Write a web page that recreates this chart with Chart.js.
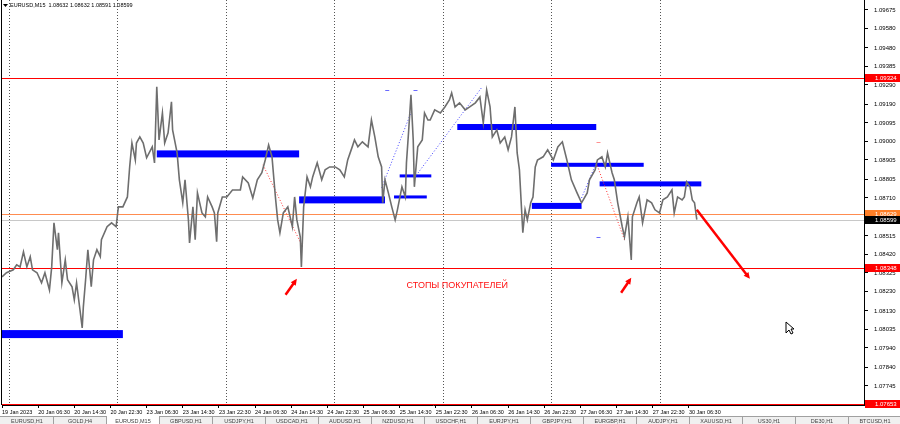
<!DOCTYPE html>
<html>
<head>
<meta charset="utf-8">
<script src="https://cdn.jsdelivr.net/npm/chart.js@4.4.1/dist/chart.umd.min.js"></script>
<style>
  html, body { margin: 0; padding: 0; background: #fff; }
  #wrap { width: 900px; height: 424px; position: relative; }
</style>
</head>
<body>
<div id="wrap"><canvas id="mtChart"></canvas></div>
<script>
// M15 bars counted from 19 Jan 22:30, closes
const barIndex = [0,4,10,13,16,19,22,25,27,31,35,38,42,44,46,49,50,53,56,58,62,64,66,69,71,72,74,76,79,81,84,87,88,93,97,101,103,107,111,113,115,118,119,122,125,128,133,135,137,139,142,144,147,150,151,155,157,160,162,165,166,169,171,173,177,180,182,186,188,190,191,
  195,199,204,211,213,218,222,226,230,233,236,239,242,244,246,249,253,257,259,261,264,265,267,270,273,275,279,283,286,290,295,299,303,306,310,312,315,319,324,327,330,333,336,337,339,342,345,348,350,354,357,358,360,362,364,365,368,372,374,377,
  379,383,388,392,396,398,401,405,410,414,419,423,426,429,432,434,438,441,445,448,451,454,456,458,461,463,465,468,470,472,474,479,483,488,492,496,500,504,509,513,518,520,525,527,531,534,536,540,542,545,549,551,554,557,558,562,564,567,571,575,578,582,585,589,593,595,598,602,604,606,609,611,613,615];
const closePrice = [1.08305,1.08326,1.08341,1.08367,1.08356,1.08433,1.08356,1.08408,1.08341,1.08326,1.08274,1.08326,1.08238,1.08356,1.08582,1.08444,1.08531,1.08274,1.08392,1.08290,1.08254,1.08187,1.08274,1.08136,1.08043,1.08151,1.08290,1.08444,1.08254,1.08392,1.08444,1.08408,1.08495,1.08562,1.08582,1.08562,1.08664,1.08664,1.08715,1.08869,1.08992,1.08905,1.08992,1.09023,1.08992,1.08916,1.08972,1.08890,1.09280,1.09008,1.09146,1.08992,1.09044,1.09203,1.09059,1.08941,1.08803,1.08685,1.08803,1.08597,1.08479,1.08664,1.08495,1.08736,1.08633,1.08613,1.08715,1.08664,1.08633,1.08485,1.08633,
  1.08715,1.08715,1.08751,1.08751,1.08818,1.08787,1.08710,1.08803,1.08839,1.08905,1.08982,1.08921,1.08715,1.08597,1.08531,1.08633,1.08664,1.08562,1.08715,1.08597,1.08510,1.08356,1.08664,1.08818,1.08767,1.08818,1.08890,1.08803,1.08854,1.08869,1.08869,1.08854,1.08818,1.08905,1.08972,1.09008,1.08972,1.08998,1.08972,1.09110,1.09023,1.08921,1.08869,1.08685,1.08803,1.08736,1.08664,1.08597,1.08649,1.08767,1.08715,1.08890,1.09059,1.09239,1.09008,1.08767,1.08972,1.09008,1.09146,1.09110,
  1.09110,1.09162,1.09146,1.09177,1.09213,1.09249,1.09177,1.09198,1.09162,1.09177,1.09198,1.09228,1.09095,1.09264,1.09177,1.09023,1.09059,1.08992,1.09023,1.08957,1.09023,1.09177,1.08941,1.08854,1.08531,1.08649,1.08597,1.08685,1.08715,1.08869,1.08905,1.08921,1.08957,1.08905,1.08972,1.08998,1.08905,1.08803,1.08736,1.08685,1.08736,1.08803,1.08854,1.08905,1.08921,1.08869,1.08941,1.08839,1.08803,1.08685,1.08562,1.08510,1.08613,1.08392,1.08613,1.08685,1.08715,1.08582,1.08700,1.08685,1.08649,1.08633,1.08700,1.08715,1.08751,1.08633,1.08715,1.08700,1.08715,1.08792,1.08767,1.08700,1.08685,1.08599];

const timeLabels = ['19 Jan 2023','20 Jan 06:30','20 Jan 14:30','20 Jan 22:30','23 Jan 06:30','23 Jan 14:30','23 Jan 22:30','24 Jan 06:30','24 Jan 14:30','24 Jan 22:30','25 Jan 06:30','25 Jan 14:30','25 Jan 22:30','26 Jan 06:30','26 Jan 14:30','26 Jan 22:30','27 Jan 06:30','27 Jan 14:30','27 Jan 22:30','30 Jan 06:30'];
const timeLabelBars = [0,32,64,96,128,160,192,224,256,288,320,352,384,416,448,480,512,544,576,608];
const daySeparators = [6,102,198,294,390,486,582];

const priceTicks = [1.09675,1.09580,1.09480,1.09385,1.09290,1.09190,1.09095,1.09000,1.08905,1.08805,1.08710,1.08615,1.08515,1.08420,1.08325,1.08230,1.08130,1.08035,1.07940,1.07840,1.07745];

const redLevels = [1.09324, 1.08348, 1.07653];
const orangeLevel = 1.08629;
const bidPrice = 1.08599;
const titleText = 'EURUSD,M15  1.08632 1.08632 1.08591 1.08599';

// blue zones: start bar, end bar, price
const zoneStart = [0, 137, 263, 352, 347, 403, 469, 486, 529];
const zoneEnd   = [107, 263, 339, 380, 376, 526, 513, 568, 619];
const zonePrice = [1.08011, 1.08936, 1.08700, 1.08823, 1.08715, 1.09074, 1.08669, 1.08880, 1.08782];

// dotted trend lines
const trendFromBar = [231, 336, 365, 513, 526];
const trendFromPrice = [1.08880, 1.08762, 1.08813, 1.08710, 1.08890];
const trendToBar = [266, 363, 425, 526, 551];
const trendToPrice = [1.08459, 1.09162, 1.09280, 1.08890, 1.08495];
const trendIsRed = [true, false, false, false, true];

// small dashes
const dashBar = [341, 366, 528, 528];
const dashPrice = [1.09264, 1.09264, 1.08998, 1.08510];

// red arrows
const arrowFromBar = [615, 251, 548];
const arrowFromPrice = [1.08649, 1.08213, 1.08223];
const arrowToBar = [662, 261, 557];
const arrowToPrice = [1.08295, 1.08295, 1.08300];

const noteText = 'СТОПЫ ПОКУПАТЕЛЕЙ';
const noteBar = 403;
const notePrice = 1.08259;

const tabLabels = ['EURUSD,H1','GOLD,H4','EURUSD,M15','GBPUSD,H1','USDJPY,H1','USDCAD,H1','AUDUSD,H1','NZDUSD,H1','USDCHF,H1','EURJPY,H1','GBPJPY,H1','EURGBP,H1','AUDJPY,H1','XAUUSD,H1','US30,H1','DE30,H1','BTCUSD,H1'];

const FONT = '"Liberation Sans", Arial, sans-serif';

function segment(ctx, x1, y1, x2, y2) {
  ctx.beginPath(); ctx.moveTo(x1, y1); ctx.lineTo(x2, y2); ctx.stroke();
}

const overlay = {
  id: 'mtOverlay',
  beforeDatasetsDraw(chart) {
    const { ctx, chartArea: a, scales: { x, y } } = chart;
    ctx.save();
    ctx.lineWidth = 1;
    // day separators
    ctx.strokeStyle = '#555';
    ctx.setLineDash([1, 2]);
    daySeparators.forEach(b => {
      const px = Math.round(x.getPixelForValue(b)) + 0.5;
      segment(ctx, px, a.top, px, a.bottom);
    });
    ctx.setLineDash([]);
    // levels
    ctx.strokeStyle = '#c8c8c8';
    let py = Math.round(y.getPixelForValue(bidPrice)) + 0.5;
    segment(ctx, a.left, py, a.right, py);
    ctx.strokeStyle = '#ff8c50';
    py = Math.round(y.getPixelForValue(orangeLevel)) + 0.5;
    segment(ctx, a.left, py, a.right, py);
    ctx.strokeStyle = '#ff0000';
    redLevels.forEach(p => {
      const q = Math.round(y.getPixelForValue(p)) + 0.5;
      segment(ctx, a.left, q, a.right, q);
    });
    // zones
    const zoneThick = [8, 7, 7, 3, 3, 6, 6, 4, 5];
    ctx.fillStyle = '#0000ff';
    zoneStart.forEach((s, i) => {
      const x1 = x.getPixelForValue(s), x2 = x.getPixelForValue(zoneEnd[i]);
      const yc = y.getPixelForValue(zonePrice[i]);
      ctx.fillRect(x1, yc - zoneThick[i] / 2, x2 - x1, zoneThick[i]);
    });
    // trend lines
    ctx.setLineDash([1, 2]);
    trendFromBar.forEach((b, i) => {
      ctx.strokeStyle = trendIsRed[i] ? '#ff3030' : '#4040ff';
      segment(ctx, x.getPixelForValue(b), y.getPixelForValue(trendFromPrice[i]),
        x.getPixelForValue(trendToBar[i]), y.getPixelForValue(trendToPrice[i]));
    });
    ctx.setLineDash([]);
    const dashCol = ['#6a6aff', '#6a6aff', '#ff9090', '#6a6aff'];
    dashBar.forEach((b, i) => {
      ctx.strokeStyle = dashCol[i];
      const px = x.getPixelForValue(b), q = Math.round(y.getPixelForValue(dashPrice[i])) + 0.5;
      segment(ctx, px - 2, q, px + 2, q);
    });
    ctx.restore();
  },
  afterDatasetsDraw(chart) {
    const { ctx, scales: { x, y } } = chart;
    ctx.save();
    ctx.strokeStyle = '#ff0000';
    ctx.fillStyle = '#ff0000';
    arrowFromBar.forEach((b, i) => {
      const x1 = x.getPixelForValue(b), y1 = y.getPixelForValue(arrowFromPrice[i]);
      const x2 = x.getPixelForValue(arrowToBar[i]), y2 = y.getPixelForValue(arrowToPrice[i]);
      const ang = Math.atan2(y2 - y1, x2 - x1);
      const head = 7;
      ctx.lineWidth = 2.5;
      segment(ctx, x1, y1, x2 - Math.cos(ang) * 3, y2 - Math.sin(ang) * 3);
      ctx.beginPath();
      ctx.moveTo(x2, y2);
      ctx.lineTo(x2 - head * Math.cos(ang - 0.45), y2 - head * Math.sin(ang - 0.45));
      ctx.lineTo(x2 - head * Math.cos(ang + 0.45), y2 - head * Math.sin(ang + 0.45));
      ctx.closePath();
      ctx.fill();
    });
    ctx.font = '9px ' + FONT;
    ctx.fillStyle = '#ff1010';
    ctx.textAlign = 'center';
    ctx.textBaseline = 'middle';
    ctx.fillText(noteText, x.getPixelForValue(noteBar), y.getPixelForValue(notePrice));
    ctx.restore();
  },
  afterDraw(chart) {
    const { ctx, chartArea: a, scales: { y } } = chart;
    ctx.save();
    // left frame
    ctx.strokeStyle = '#000';
    ctx.lineWidth = 1;
    segment(ctx, a.left - 0.5, a.top, a.left - 0.5, a.bottom);
    // price label boxes
    ctx.font = '6px ' + FONT;
    ctx.textBaseline = 'middle';
    ctx.textAlign = 'left';
    const box = (p, bg) => {
      const q = Math.round(y.getPixelForValue(p));
      ctx.fillStyle = bg;
      ctx.fillRect(a.right + 1, q - 4, 35, 8);
      ctx.fillStyle = '#fff';
      ctx.fillText(p.toFixed(5), a.right + 11, q + 0.5);
    };
    redLevels.forEach(p => box(p, '#ff0000'));
    box(orangeLevel, '#ff7f27');
    box(bidPrice, '#000000');
    // title
    ctx.fillStyle = '#000';
    ctx.beginPath();
    ctx.moveTo(3, 4); ctx.lineTo(8, 4); ctx.lineTo(5.5, 7); ctx.closePath(); ctx.fill();
    ctx.font = '5.5px ' + FONT;
    ctx.fillText(titleText, 10, 5.5);
    // tab strip
    ctx.fillStyle = '#f0f0f0';
    ctx.fillRect(0, 416, 900, 8);
    ctx.strokeStyle = '#a0a0a0';
    segment(ctx, 0, 416.5, 900, 416.5);
    let tx = 1;
    tabLabels.forEach((t, i) => {
      const w = 52;
      if (i === 2) { ctx.fillStyle = '#fff'; ctx.fillRect(tx, 416, w, 8); }
      ctx.strokeStyle = '#a0a0a0';
      segment(ctx, tx + w + 0.5, 417, tx + w + 0.5, 424);
      ctx.fillStyle = '#444';
      ctx.font = '5.5px ' + FONT;
      ctx.textAlign = 'center';
      ctx.fillText(t, tx + w / 2, 421);
      tx += w + 1;
    });
    // mouse pointer
    const cx = 786, cy = 322;
    ctx.beginPath();
    ctx.moveTo(cx, cy); ctx.lineTo(cx, cy + 11); ctx.lineTo(cx + 3, cy + 8);
    ctx.lineTo(cx + 5, cy + 12); ctx.lineTo(cx + 7, cy + 11); ctx.lineTo(cx + 5, cy + 7);
    ctx.lineTo(cx + 8, cy + 7); ctx.closePath();
    ctx.fillStyle = '#fff'; ctx.fill();
    ctx.strokeStyle = '#000'; ctx.stroke();
    ctx.restore();
  }
};

const chart = new Chart(document.getElementById('mtChart').getContext('2d'), {
  type: 'line',
  data: {
    datasets: [{
      data: barIndex.map((b, i) => ({ x: b, y: closePrice[i] })),
      borderColor: '#6e6e6e',
      borderWidth: 1.6,
      pointRadius: 0,
      tension: 0,
      fill: false
    }]
  },
  options: {
    responsive: true,
    maintainAspectRatio: false,
    animation: false,
    events: [],
    layout: { padding: { left: 2, top: 0, right: 0, bottom: 0 } },
    plugins: { legend: { display: false }, tooltip: { enabled: false } },
    scales: {
      x: {
        type: 'linear',
        min: 0,
        max: 763,
        afterBuildTicks: s => { s.ticks = timeLabelBars.map(v => ({ value: v })); },
        afterFit: s => { s.height = 19; s.paddingLeft = 0; s.paddingRight = 0; },
        ticks: {
          callback: (v, i) => timeLabels[i],
          align: 'start',
          autoSkip: false,
          maxRotation: 0,
          padding: 1,
          color: '#000',
          font: { size: 5.5, family: FONT }
        },
        grid: { drawOnChartArea: false, tickLength: 3, color: '#000' },
        border: { color: '#000' }
      },
      y: {
        position: 'right',
        min: 1.07647,
        max: 1.09726,
        afterBuildTicks: s => { s.ticks = priceTicks.map(v => ({ value: v })); },
        afterFit: s => { s.width = 36; s.paddingTop = 0; s.paddingBottom = 0; },
        ticks: {
          callback: v => v.toFixed(5),
          padding: 6,
          color: '#000',
          font: { size: 6, family: FONT }
        },
        grid: { drawOnChartArea: false, tickLength: 4, color: '#000' },
        border: { color: '#000' }
      }
    }
  },
  plugins: [overlay]
});
</script>
</body>
</html>
